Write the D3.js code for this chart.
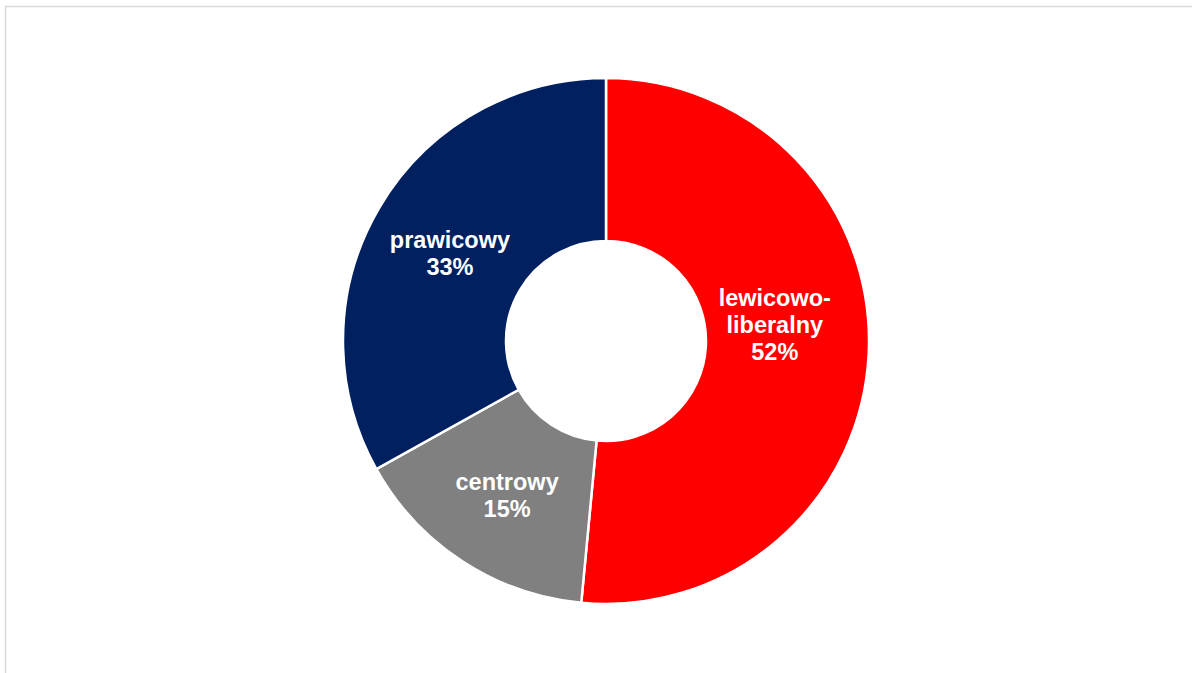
<!DOCTYPE html>
<html lang="pl">
<head>
    <meta charset="UTF-8">
    <style>
        body { margin: 0; background: #fff; }
        svg { display: block; }
    </style>
    <title>D3</title>
    <script src="https://d3js.org/d3.v7.min.js"></script>
</head>
<body>

<div id="chart"></div>

<script>

    // DATA
    const categories = [["lewicowo-", "liberalny"], ["centrowy"], ["prawicowy"]]
    const values = [51.5, 15.4, 33.1]
    const pctLabels = ["52%", "15%", "33%"]
    const colors = ["#FF0000", "#808080", "#002060"]

    const WIDTH = 1192
    const HEIGHT = 673
    const CX = 606, CY = 341
    const R_OUT = 263, R_IN = 100

    // label nudges (px), the red one sits a bit higher in the original
    const NUDGE = [[-12, -26], [0, 2], [0, 3]]

    const svg = d3.select("#chart")
        .append("svg")
        .attr("width", WIDTH)
        .attr("height", HEIGHT)

    // chart area border (runs off the right / bottom edge)
    svg.append("rect")
        .attr("x", 5.5)
        .attr("y", 6.5)
        .attr("width", 1300)
        .attr("height", 800)
        .attr("fill", "none")
        .attr("stroke", "#d9d9d9")
        .attr("stroke-width", 1.5)

    const g = svg.append("g")
        .attr("transform", `translate(${CX}, ${CY})`)

    const pie = d3.pie().sort(null).value(d => d)
    const arcs = pie(values)

    const arc = d3.arc().innerRadius(R_IN).outerRadius(R_OUT)
    const labelArc = d3.arc().innerRadius(181).outerRadius(181)

    g.selectAll("path.slice")
        .data(arcs)
        .enter().append("path")
        .attr("class", "slice")
        .attr("d", arc)
        .attr("fill", (d, i) => colors[i])
        .attr("stroke", "#fff")
        .attr("stroke-width", 2.5)

    const LH = 27
    const labels = g.selectAll("text.lbl")
        .data(arcs)
        .enter().append("text")
        .attr("class", "lbl")
        .attr("text-anchor", "middle")
        .attr("font-family", "Liberation Sans, Arial, sans-serif")
        .attr("font-weight", "bold")
        .attr("font-size", "23.5px")
        .attr("fill", "#fff")

    labels.each(function (d, i) {
        let [x, y] = labelArc.centroid(d)
        x += NUDGE[i][0]
        y += NUDGE[i][1]
        const lines = categories[i].concat([pctLabels[i]])
        const y0 = y - (lines.length - 1) * LH / 2 + 9
        d3.select(this).selectAll("tspan")
            .data(lines)
            .enter().append("tspan")
            .attr("x", x)
            .attr("y", (t, k) => y0 + k * LH)
            .text(t => t)
    })

</script>
</body>
</html>
